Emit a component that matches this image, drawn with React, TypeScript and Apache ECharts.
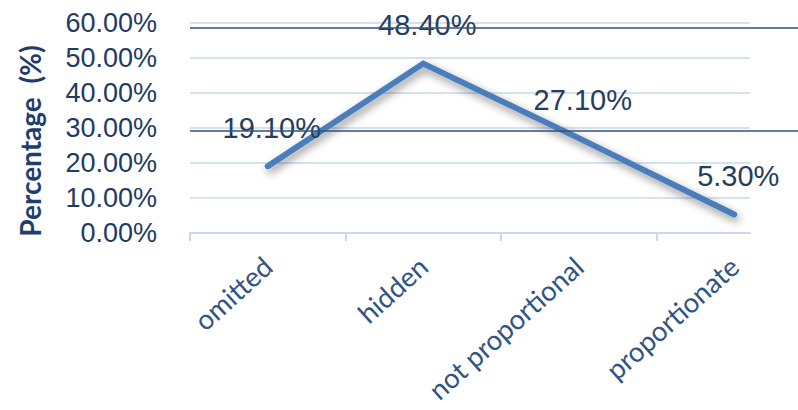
import React, { useEffect, useRef } from "react";
import * as echarts from "echarts";

const categories = ["omitted", "hidden", "not proportional", "proportionate"];
const values = [19.1, 48.4, 27.1, 5.3];
const yMin = 0;
const yMax = 60;
const yInterval = 10;
const refLines = [58.6, 29.1];
const axisName = "Percentage  (%)";

export default function App() {
  const ref = useRef<HTMLDivElement>(null);
  useEffect(() => {
    if (!ref.current) return;
    const chart = echarts.init(ref.current, null, { renderer: "svg" });
    const light = "#d6e2f0";
    chart.setOption({
      animation: false,
      backgroundColor: "#ffffff",
      grid: [
        { left: 190, width: 560, top: 23, bottom: 177, outerBoundsMode: "none", containLabel: false },
        { left: 190, width: 622, top: 23, bottom: 177, outerBoundsMode: "none", containLabel: false },
      ],
      xAxis: [
        {
          gridIndex: 0,
          type: "category",
          data: categories,
          axisLine: { show: true, lineStyle: { color: "#c9d8ec", width: 2 } },
          axisTick: { show: false },
          axisLabel: { show: false },
          splitLine: { show: false },
        },
        {
          gridIndex: 1,
          type: "category",
          data: categories,
          axisLine: { show: false },
          axisTick: { show: true, length: 8, lineStyle: { color: "#c9d8ec", width: 2 } },
          axisLabel: {
            rotate: 42,
            margin: 29,
            fontFamily: "Lato",
            fontSize: 27.5,
            color: "#2f5485",
          },
          splitLine: { show: false },
        },
      ],
      yAxis: [
        {
          gridIndex: 0,
          type: "value",
          min: yMin,
          max: yMax,
          interval: yInterval,
          axisLine: { show: false },
          axisTick: { show: false },
          axisLabel: {
            margin: 33,
            fontFamily: "Liberation Sans",
            fontSize: 27,
            color: "#1f3b62",
            formatter: (v: number) => v.toFixed(2) + "%",
          },
          splitLine: { show: true, lineStyle: { color: light, width: 2 } },
          name: axisName,
          nameLocation: "middle",
          nameGap: 146,
          nameRotate: 90,
          nameTextStyle: {
            fontFamily: "Lato",
            fontWeight: "bold",
            fontSize: 28,
            color: "#1f3d6e",
            padding: [0, 26, 0, 0],
          },
        },
        {
          gridIndex: 1,
          type: "value",
          min: yMin,
          max: yMax,
          interval: yInterval,
          show: false,
          splitLine: { show: false },
        },
      ],
      series: [
        {
          type: "line",
          xAxisIndex: 1,
          yAxisIndex: 1,
          data: values,
          showSymbol: true,
          symbol: "circle",
          symbolSize: 1,
          itemStyle: { color: "rgba(0,0,0,0)" },
          lineStyle: {
            color: "#4a7ebb",
            width: 6,
            cap: "round",
            join: "miter",
            shadowColor: "rgba(0,0,0,0.45)",
            shadowBlur: 8,
            shadowOffsetX: 2,
            shadowOffsetY: 4,
          },
          label: {
            show: true,
            position: "top",
            distance: 24,
            offset: [4, 0],
            fontFamily: "Liberation Sans",
            fontSize: 29,
            lineHeight: 28,
            color: "#263d5c",
            formatter: (p: any) => Number(p.value).toFixed(2) + "%",
          },
          markLine: {
            silent: true,
            symbol: "none",
            label: { show: false },
            lineStyle: { color: "#34507a", width: 1.5, type: "solid" },
            data: refLines.map((v) => ({ yAxis: v })),
          },
          z: 3,
        },
      ],
    });
    return () => chart.dispose();
  }, []);
  return (
    <div style={{ width: 798, height: 410, position: "absolute", left: 0, top: 0, overflow: "hidden", background: "#fff" }}>
      <div ref={ref} style={{ width: 830, height: 410 }} />
    </div>
  );
}
